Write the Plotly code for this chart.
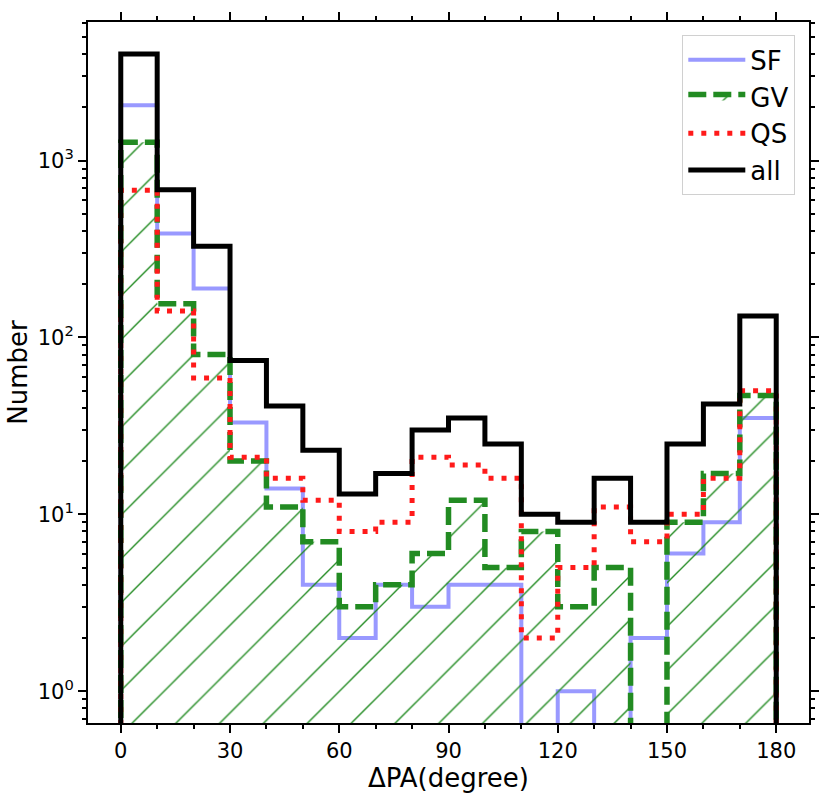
import plotly.graph_objects as go

# histogram of position-angle offsets, 10 degree bins from 0 to 180
bin_edges = [0, 10, 20, 30, 40, 50, 60, 70, 80, 90, 100, 110, 120, 130, 140, 150, 160, 170, 180]

sf_counts = [2050, 387, 189, 33, 14, 4, 2, 4, 3, 4, 4, 0, 1, 0, 2, 6, 9, 35]
gv_counts = [1270, 155, 80, 20, 11, 7, 3, 4, 6, 12, 5, 8, 3, 5, 0, 9, 17, 47]
qs_counts = [680, 141, 59, 21, 16, 12, 8, 9, 21, 19, 16, 2, 5, 11, 7, 10, 16, 50]
all_counts = [4000, 683, 328, 74, 41, 23, 13, 17, 30, 35, 25, 10, 9, 16, 9, 25, 42, 132]

x_ticks = [0, 30, 60, 90, 120, 150, 180]
y_ticks = [1, 10, 100, 1000]
y_ticktext = ["10<sup>0</sup>", "10<sup>1</sup>", "10<sup>2</sup>", "10<sup>3</sup>"]

FLOOR = 0.1  # empty bins drop below the visible log range, like a step histogram


def step_outline(edges, counts):
    xs = [edges[0]]
    ys = [FLOOR]
    for i, c in enumerate(counts):
        v = c if c > 0 else FLOOR
        xs += [edges[i], edges[i + 1]]
        ys += [v, v]
    xs.append(edges[-1])
    ys.append(FLOOR)
    return xs, ys


fig = go.Figure()

x, y = step_outline(bin_edges, sf_counts)
fig.add_trace(go.Scatter(x=x, y=y, mode="lines", name="SF",
                         line=dict(color="#9999ff", width=4)))

x, y = step_outline(bin_edges, gv_counts)
fig.add_trace(go.Scatter(x=x, y=y, mode="lines", name="GV", fill="toself",
                         fillcolor="rgba(255,255,255,0)",
                         fillpattern=dict(shape="/", fgcolor="#228b22", fgopacity=1,
                                          bgcolor="rgba(255,255,255,0)",
                                          size=31, solidity=0.045),
                         line=dict(color="#228b22", width=5.5, dash="18px,7px")))

x, y = step_outline(bin_edges, qs_counts)
fig.add_trace(go.Scatter(x=x, y=y, mode="lines", name="QS",
                         line=dict(color="#ff1a1a", width=5, dash="5px,8px")))

x, y = step_outline(bin_edges, all_counts)
fig.add_trace(go.Scatter(x=x, y=y, mode="lines", name="all",
                         line=dict(color="black", width=5)))

axis_font = dict(family="DejaVu Sans", size=21, color="black")
title_font = dict(family="DejaVu Sans", size=26, color="black")

fig.update_layout(
    width=831, height=798,
    margin=dict(l=88, r=18, t=19, b=75),
    paper_bgcolor="white", plot_bgcolor="white",
    font=dict(family="DejaVu Sans", color="black"),
    showlegend=True,
    legend=dict(x=0.981, y=0.981, xanchor="right", yanchor="top",
                bgcolor="white", bordercolor="#d0d0d0", borderwidth=1,
                font=dict(family="DejaVu Sans", size=26, color="black"),
                itemwidth=57, tracegroupgap=0),
    xaxis=dict(range=[-9, 189], tickvals=x_ticks, ticks="outside", ticklen=8, tickwidth=2,
               tickcolor="black", showline=True, linecolor="black", linewidth=2, mirror="ticks",
               showgrid=False, zeroline=False, tickfont=axis_font,
               minor=dict(dtick=10, tick0=0, ticks="outside", ticklen=4, tickwidth=1.5,
                          tickcolor="black", showgrid=False),
               title=dict(text="ΔPA(degree)", font=title_font, standoff=3)),
    yaxis=dict(type="log", range=[-0.18, 3.783], tickvals=y_ticks, ticktext=y_ticktext,
               ticks="outside", ticklen=8, tickwidth=2, tickcolor="black",
               showline=True, linecolor="black", linewidth=2, mirror="ticks",
               showgrid=False, zeroline=False, tickfont=axis_font,
               minor=dict(tickvals=[d * m for d in y_ticks for m in range(2, 10)] + [0.7, 0.8, 0.9],
                          ticks="outside", ticklen=4, tickwidth=1.5, tickcolor="black",
                          showgrid=False),
               title=dict(text="Number", font=title_font, standoff=3)),
)

# drop the page's default body margin so the figure sits at the window origin
fig.write_html("out.html", config={"displayModeBar": False},
               post_script="document.body.style.margin='0';")
